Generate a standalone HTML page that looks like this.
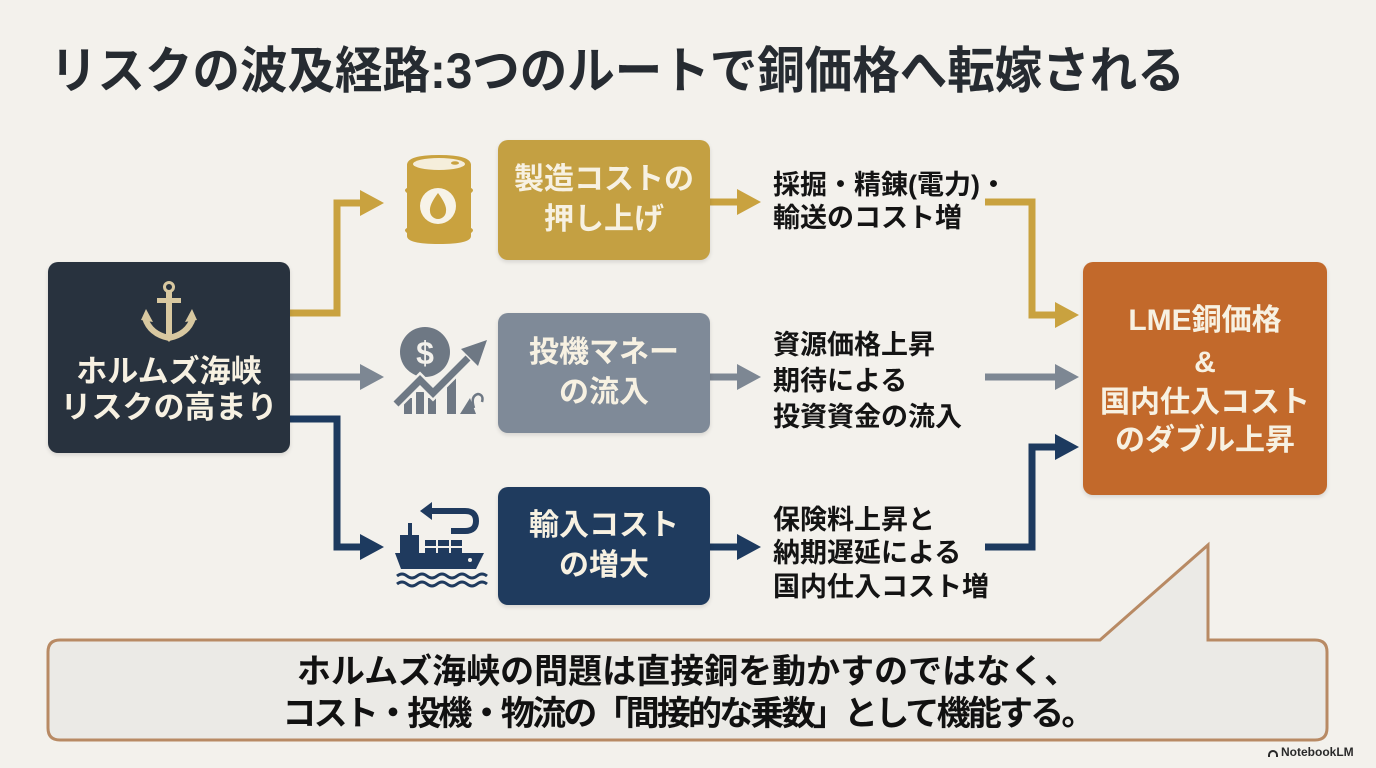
<!DOCTYPE html>
<html><head><meta charset="utf-8">
<style>
html,body{margin:0;padding:0;}
body{width:1376px;height:768px;position:relative;overflow:hidden;background:#f3f1ec;font-family:"Liberation Sans","Noto Sans CJK JP",sans-serif;font-weight:700;}
.abs{position:absolute;}
.title{left:50px;top:44px;font-size:50px;line-height:54px;color:#262b31;white-space:nowrap;transform:scaleX(0.95);transform-origin:left center;}
.box{position:absolute;border-radius:10px;display:flex;flex-direction:column;align-items:center;justify-content:center;color:#f7f1e2;box-shadow:0 2px 4px rgba(0,0,0,0.12);}
.box div{white-space:nowrap;}
.mid{position:absolute;left:773px;font-size:27px;line-height:34px;color:#141414;white-space:nowrap;}
.cl{position:absolute;left:48px;width:1279px;text-align:center;font-size:34px;line-height:40px;color:#111;white-space:nowrap;}
</style></head><body>

<div class="abs title">リスクの波及経路:3つのルートで銅価格へ転嫁される</div>

<svg class="abs" style="left:0;top:0" width="1376" height="768" viewBox="0 0 1376 768">
  <!-- callout -->
  <path d="M60 640 H1100 L1208 545 L1208 640 H1315 Q1327 640 1327 652 V728 Q1327 740 1315 740 H60 Q48 740 48 728 V652 Q48 640 60 640 Z" fill="#ebeae6" stroke="#b88a64" stroke-width="3" stroke-linejoin="miter"/>

  <!-- arrows -->
  <g fill="none" stroke-width="7" stroke-linejoin="miter">
    <path d="M290 313 H337 V203 H362" stroke="#c9a23f"/>
    <path d="M290 377 H362" stroke="#7d8793"/>
    <path d="M290 419 H337 V547 H362" stroke="#1d3a5f"/>
    <path d="M710 202 H740" stroke="#c9a23f"/>
    <path d="M710 377 H740" stroke="#7d8793"/>
    <path d="M710 547 H740" stroke="#1d3a5f"/>
    <path d="M985 202 H1032 V315 H1057" stroke="#c9a23f"/>
    <path d="M985 377 H1057" stroke="#7d8793"/>
    <path d="M985 547 H1032 V447 H1057" stroke="#1d3a5f"/>
  </g>
  <polygon points="360,190 384,203 360,216" fill="#c9a23f"/>
  <polygon points="360,364 384,377 360,390" fill="#7d8793"/>
  <polygon points="360,534 384,547 360,560" fill="#1d3a5f"/>
  <polygon points="737,189 761,202 737,215" fill="#c9a23f"/>
  <polygon points="737,364 761,377 737,390" fill="#7d8793"/>
  <polygon points="737,534 761,547 737,560" fill="#1d3a5f"/>
  <polygon points="1055,302 1079,315 1055,328" fill="#c9a23f"/>
  <polygon points="1055,364 1079,377 1055,390" fill="#7d8793"/>
  <polygon points="1055,434 1079,447 1055,460" fill="#1d3a5f"/>

  <!-- barrel -->
  <path d="M407 165 Q407 155 439 155 Q471 155 471 165 L471 188 Q475 190 471 193 L471 228 Q475 230 471 233 L471 236 Q471 244 439 244 Q407 244 407 236 L407 233 Q403 230 407 228 L407 193 Q403 190 407 188 Z" fill="#c9a23f"/>
  <ellipse cx="439" cy="164" rx="26" ry="6" fill="#f5eedb"/>
  <ellipse cx="455" cy="163" rx="4" ry="1.8" fill="#c9a23f"/>
  <circle cx="438" cy="206" r="18" fill="#f7f3e8"/>
  <path d="M438 193 Q447 205 446 211 A8 8 0 0 1 430 211 Q429 205 438 193 Z" fill="#c9a23f"/>

  <!-- money icon -->
  <circle cx="425" cy="352" r="25" fill="#6e7884"/>
  <text x="425" y="364" font-size="32" font-weight="700" fill="#f3f1ec" text-anchor="middle" font-family="Liberation Sans, sans-serif">$</text>
  <g fill="#6e7884">
    <rect x="404" y="398" width="8" height="16"/>
    <rect x="416" y="392" width="8" height="22"/>
    <rect x="428" y="398" width="8" height="16"/>
    <rect x="447" y="378" width="9" height="36"/>
    <polygon points="460,414 470,398 476,414"/>
  </g>
  <path d="M396 404 L420 380 L433 393 L468 358" fill="none" stroke="#f3f1ec" stroke-width="12"/>
  <path d="M396 404 L420 380 L433 393 L468 358" fill="none" stroke="#6e7884" stroke-width="7"/>
  <polygon points="487,340 461,349 478,366" fill="#6e7884"/>
  <path d="M474 408 Q470 396 478 394 Q484 395 482 402" fill="none" stroke="#6e7884" stroke-width="2.5"/>

  <!-- ship -->
  <g fill="#1f3a5e">
    <rect x="408" y="523" width="4" height="13"/>
    <rect x="400" y="535" width="19" height="18"/>
    <rect x="425" y="540" width="11" height="6"/>
    <rect x="438" y="540" width="11" height="6"/>
    <rect x="451" y="540" width="11" height="6"/>
    <rect x="425" y="548" width="11" height="5"/>
    <rect x="438" y="548" width="11" height="5"/>
    <rect x="451" y="548" width="11" height="5"/>
    <polygon points="395,553 484,553 476,569 401,569"/>
    <polygon points="420,511 432,502 432,520"/>
  </g>
  <circle cx="470" cy="560" r="2" fill="#f3f1ec"/>
  <path d="M430 511 H465 Q476 511 476 521 Q476 531 465 531 H451" fill="none" stroke="#1f3a5e" stroke-width="6"/>
  <path d="M397 576 q5 -4 10 0 t10 0 t10 0 t10 0 t10 0 t10 0 t10 0 t10 0 t10 0" fill="none" stroke="#1f3a5e" stroke-width="3"/>
  <path d="M397 584 q5 -4 10 0 t10 0 t10 0 t10 0 t10 0 t10 0 t10 0 t10 0 t10 0" fill="none" stroke="#1f3a5e" stroke-width="3"/>
</svg>

<!-- left box -->
<div class="box" style="left:48px;top:262px;width:242px;height:191px;background:#28323e;justify-content:flex-start;">
  <svg width="242" height="191" viewBox="48 262 242 191" style="position:absolute;left:0;top:0">
    <g fill="none" stroke="#d8c8a0">
      <circle cx="169" cy="287" r="4.5" stroke-width="3"/>
      <path d="M145 318 Q150 334 169 338 Q188 334 193 318" stroke-width="6"/>
    </g>
    <g fill="#d8c8a0">
      <rect x="166" y="292" width="6" height="44"/>
      <rect x="157" y="298" width="24" height="5"/>
      <polygon points="141,320 146,309 153,322"/>
      <polygon points="197,320 192,309 185,322"/>
      <polygon points="162,334 169,342 176,334"/>
    </g>
  </svg>
  <div style="position:absolute;left:0;width:242px;top:92px;text-align:center;font-size:31px;line-height:36px;">ホルムズ海峡</div>
  <div style="position:absolute;left:0;width:242px;top:128px;text-align:center;font-size:31px;line-height:36px;">リスクの高まり</div>
</div>

<!-- middle boxes -->
<div class="box" style="left:498px;top:140px;width:212px;height:120px;background:#c4a042;font-size:30px;line-height:40px;">
  <div>製造コストの</div><div>押し上げ</div>
</div>
<div class="box" style="left:498px;top:313px;width:212px;height:120px;background:#7f8a98;font-size:30px;line-height:40px;">
  <div>投機マネー</div><div>の流入</div>
</div>
<div class="box" style="left:498px;top:487px;width:212px;height:118px;background:#1f3b5e;font-size:30px;line-height:40px;">
  <div>輸入コスト</div><div>の増大</div>
</div>

<!-- right box -->
<div class="box" style="left:1083px;top:262px;width:244px;height:233px;background:#c2692b;font-size:30px;">
  <div style="position:absolute;left:0;width:244px;top:39px;text-align:center;line-height:40px;">LME銅価格</div>
  <div style="position:absolute;left:0;width:244px;top:81px;text-align:center;line-height:40px;">&amp;</div>
  <div style="position:absolute;left:0;width:244px;top:121px;text-align:center;line-height:40px;">国内仕入コスト</div>
  <div style="position:absolute;left:0;width:244px;top:159px;text-align:center;line-height:40px;">のダブル上昇</div>
</div>

<!-- middle texts -->
<div class="mid" style="top:168px;">採掘・精錬(電力)・</div>
<div class="mid" style="top:201px;">輸送のコスト増</div>
<div class="mid" style="top:328px;">資源価格上昇</div>
<div class="mid" style="top:364px;">期待による</div>
<div class="mid" style="top:400px;">投資資金の流入</div>
<div class="mid" style="top:503px;">保険料上昇と</div>
<div class="mid" style="top:536px;">納期遅延による</div>
<div class="mid" style="top:570px;">国内仕入コスト増</div>

<!-- callout text -->
<div class="cl" style="top:652px;">ホルムズ海峡の問題は直接銅を動かすのではなく、</div>
<div class="cl" style="top:694px;letter-spacing:-2.8px;">コスト・投機・物流の「間接的な乗数」として機能する。</div>

<!-- watermark -->
<div class="abs" style="left:1268px;top:745px;font-size:12px;line-height:14px;color:#2a2a2a;font-weight:700;white-space:nowrap;">
  <span style="display:inline-block;width:10px;height:7px;border:2px solid #2a2a2a;border-bottom:none;border-radius:6px 6px 0 0;vertical-align:-1px;margin-right:3px;box-sizing:border-box;"></span>NotebookLM
</div>

</body></html>
